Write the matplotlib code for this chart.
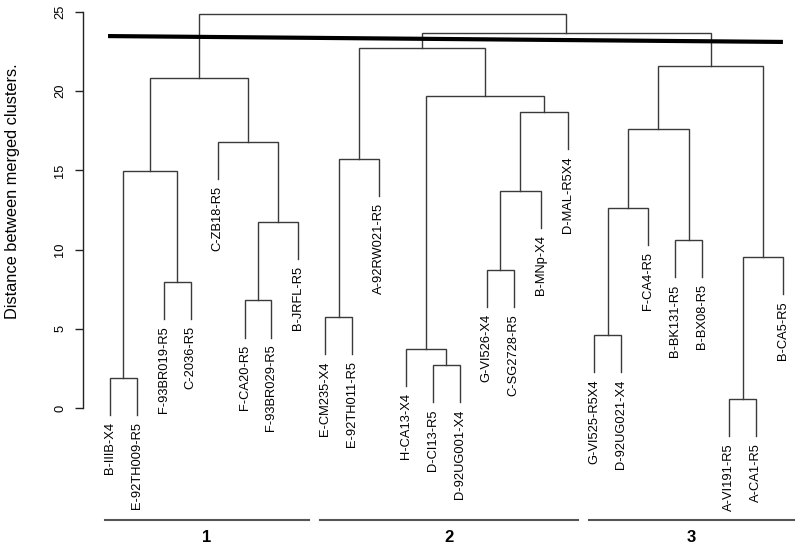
import matplotlib
matplotlib.use('Agg')
import matplotlib.pyplot as plt
from matplotlib.transforms import blended_transform_factory

plt.rcParams['font.family'] = ['Liberation Sans', 'DejaVu Sans']

# Leaf labels in plotting order
labels = ['B-IIIB-X4', 'E-92TH009-R5', 'F-93BR019-R5', 'C-2036-R5', 'C-ZB18-R5',
          'F-CA20-R5', 'F-93BR029-R5', 'B-JRFL-R5', 'E-CM235-X4', 'E-92TH011-R5',
          'A-92RW021-R5', 'H-CA13-X4', 'D-CI13-R5', 'D-92UG001-X4', 'G-VI526-X4',
          'C-SG2728-R5', 'B-MNp-X4', 'D-MAL-R5X4', 'G-VI525-R5X4', 'D-92UG021-X4',
          'F-CA4-R5', 'B-BK131-R5', 'B-BX08-R5', 'A-VI191-R5', 'A-CA1-R5', 'B-CA5-R5']

# R-style merge table: negative = leaf (1-based), positive = earlier merge (1-based)
merge_left = [-24, -1, -13, -12, -19, -9, -6, -3, -15, 1, -22, 7, 5, 9, 2, 6, -5, 13, 14, 4, 15, 18, 16, 23, 21]
merge_right = [-25, -2, -14, 3, -20, -10, -7, -4, -16, -26, -23, -8, -21, -17, 8, -11, 12, 11, -18, 19, 17, 10, 20, 22, 24]
merge_height = [0.57, 1.89, 2.71, 3.73, 4.61, 5.74, 6.8, 7.95, 8.71, 9.53, 10.6, 11.74,
                 12.63, 13.7, 14.96, 15.72, 16.79, 17.61, 18.69, 19.7, 20.83, 21.59,
                 22.73, 23.67, 24.87]

cut_heights = [23.48, 23.11]          # thick cut line (left end, right end)
cluster_names = ['1', '2', '3']
cluster_first = [1, 9, 19]
cluster_last = [8, 18, 26]
y_ticks = [0, 5, 10, 15, 20, 25]

hang = 2.35
line_col = '#3a3a3a'

fig = plt.figure(figsize=(8, 5.5), dpi=100)
ax = fig.add_axes([83 / 800, 1 - 408 / 550, 714 / 800, 396 / 550])
ax.set_xlim(0, 714 / 26.92)
ax.set_ylim(0, 25)

node_x = {}
node_y = {}
leaf_end = {}


def child_pos(c, h):
    if c < 0:
        x = -c
        y = h - hang
        leaf_end[-c] = y
        return x, y
    return node_x[c], node_y[c]


for k, (a, b, h) in enumerate(zip(merge_left, merge_right, merge_height), start=1):
    xa, ya = child_pos(a, h)
    xb, yb = child_pos(b, h)
    ax.plot([xa, xa, xb, xb], [ya, h, h, yb], color=line_col, lw=1.0,
            clip_on=False, solid_joinstyle='miter')
    node_x[k] = (xa + xb) / 2
    node_y[k] = h

for i, lab in enumerate(labels, start=1):
    ax.annotate(lab, (i, leaf_end[i]), xytext=(0, -5), textcoords='offset points',
                rotation=90, ha='center', va='top', fontsize=9.3, color='black',
                annotation_clip=False)

# Thick cut line
ax.plot([0.93, len(labels)], cut_heights, color='black', lw=3.0, clip_on=False,
        solid_capstyle='butt')

# Axis styling
for s in ['top', 'right', 'bottom']:
    ax.spines[s].set_visible(False)
ax.spines['left'].set_color('#222222')
ax.spines['left'].set_linewidth(1.0)
ax.set_xticks([])
ax.set_yticks(y_ticks)
ax.set_yticklabels([str(t) for t in y_ticks], rotation=90, va='center', fontsize=9.3)
ax.tick_params(axis='y', length=6, width=1.0, pad=6, color='#222222')
ax.set_ylabel('Distance between merged clusters.', fontsize=11.8)
ax.yaxis.set_label_coords(-0.088, 0.548)

# Cluster brackets
trans = blended_transform_factory(ax.transData, ax.transAxes)
for name, f, l in zip(cluster_names, cluster_first, cluster_last):
    x0, x1 = f - 0.2, l + 0.4
    ax.plot([x0, x1], [-0.283, -0.283], transform=trans, color='#555555', lw=1.5,
            clip_on=False)
    ax.text((x0 + x1) / 2, -0.326, name, transform=trans, ha='center', va='center',
            fontsize=12, fontweight='bold')

fig.savefig('out.png', dpi=100)
